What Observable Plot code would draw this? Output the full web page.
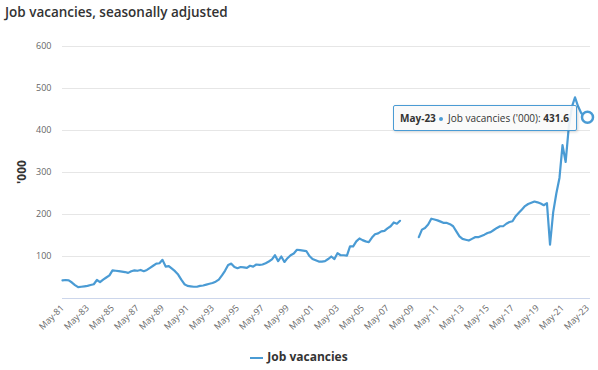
<!DOCTYPE html>
<html><head><meta charset="utf-8">
<script src="https://cdn.jsdelivr.net/npm/d3@7"></script>
<script src="https://cdn.jsdelivr.net/npm/@observablehq/plot@0.6"></script>
<style>
body{margin:0;background:#fff;font-family:"Open Sans",sans-serif;}
#wrap{position:relative;width:598px;height:370px;overflow:hidden;}
#title{position:absolute;left:5px;top:3px;font-size:13.5px;font-weight:600;color:#333;white-space:nowrap;}
#ylab{position:absolute;left:21px;top:172px;transform:translate(-50%,-50%) rotate(-90deg);font-size:12px;font-weight:bold;color:#333;white-space:nowrap;}
#tip{position:absolute;right:21px;top:105px;box-sizing:border-box;height:26px;line-height:24px;padding:0 7px 0 6px;border:1px solid #4a9bd4;background:rgba(250,250,250,0.9);box-shadow:1px 1px 3px rgba(0,0,0,0.18);font-size:10px;color:#333;white-space:nowrap;border-radius:2px;}
#tip .dot{display:inline-block;width:4px;height:4px;border-radius:50%;background:#4a9bd4;vertical-align:middle;margin:0 2px 0 1px;}
#legend{position:absolute;left:0;width:598px;top:348px;text-align:center;font-size:12px;font-weight:bold;color:#333;}
#legend .sym{display:inline-block;width:13px;height:2px;background:#4a9bd4;vertical-align:middle;margin-right:4px;}
#wrap svg{position:absolute;left:0;top:0;}
</style></head><body>
<div id="wrap"></div>
<script>
// Quarterly job vacancies ('000), May-81 .. May-23 (null = survey suspended)
const seriesName = "Job vacancies";
const unitLabel = "'000";
const titleText = "Job vacancies, seasonally adjusted";
const firstQuarter = {year: 1981, month: 4}; // May 1981
const values = [
  43,44,43,38,32,27,28,29,30,32,34,44,39,45,50,55,
  67,66,65,64,63,61,65,67,66,68,65,68,73,78,83,84,
  92,76,77,71,65,57,45,34,30,29,28,28,30,31,33,35,
  37,40,45,55,66,80,83,75,72,75,74,73,78,76,81,80,
  81,84,88,93,103,89,100,87,96,103,107,116,115,114,113,101,
  94,91,88,88,89,94,100,94,108,103,103,102,124,124,136,143,
  139,136,134,145,153,155,160,161,167,172,181,178,185,null,null,null,
  null,null,146,164,168,176,190,188,186,183,180,180,177,172,160,148,
  142,140,138,142,146,146,149,152,156,158,163,168,172,172,178,182,
  184,196,204,212,220,225,228,231,229,226,222,227,128,205,250,287,
  365,325,409,457,479,457,441,436,431.6
];
const tickLabels = ["May-81","May-83","May-85","May-87","May-89","May-91","May-93","May-95","May-97","May-99","May-01",
  "May-03","May-05","May-07","May-09","May-11","May-13","May-15","May-17","May-19","May-21","May-23"];
const yTicks = [100,200,300,400,500,600];

const lineColor = "#4a9bd4";
const data = values.map((v, i) => ({date: new Date(firstQuarter.year, firstQuarter.month + 3*i, 1), value: v}));
const tickDates = tickLabels.map(l => { const yy = +l.slice(4); return new Date(yy > 50 ? 1900 + yy : 2000 + yy, 4, 1); });
const labelByTime = new Map(tickDates.map((d, i) => [+d, tickLabels[i]]));
const last = data[data.length - 1];

const chart = Plot.plot({
  width: 598, height: 370,
  marginLeft: 62, marginRight: 11, marginTop: 46, marginBottom: 72,
  style: {fontFamily: "Open Sans, sans-serif", fontSize: "9px", color: "#666", background: "transparent", overflow: "visible"},
  x: {type: "time", domain: [data[0].date, last.date]},
  y: {domain: [0, 600]},
  marks: [
    Plot.ruleY(yTicks, {stroke: "#e6e6e6", insetRight: -3}),
    Plot.ruleY([0], {stroke: "#ccd6eb", insetRight: -3}),
    Plot.axisY({ticks: yTicks, tickSize: 0, tickPadding: 11, label: null, fill: "#666"}),
    Plot.axisX({ticks: tickDates, tickFormat: d => labelByTime.get(+d), tickRotate: -45, tickSize: 0, tickPadding: 8, label: null, fill: "#666"}),
    Plot.line(data, {x: "date", y: "value", stroke: lineColor, strokeWidth: 2.2}),
    Plot.dot([last], {x: "date", y: "value", r: 5.5, fill: "#fff", stroke: lineColor, strokeWidth: 2.5})
  ]
});
const wrap = document.getElementById("wrap");
wrap.appendChild(chart);

const t = document.createElement("div"); t.id = "title"; t.textContent = titleText; wrap.appendChild(t);
const yl = document.createElement("div"); yl.id = "ylab"; yl.textContent = unitLabel; wrap.appendChild(yl);
const tip = document.createElement("div"); tip.id = "tip";
const lastLabel = tickLabels[tickLabels.length - 1];
tip.innerHTML = `<b>${lastLabel}</b> <span class="dot"></span> ${seriesName} (${unitLabel}): <b>${last.value}</b>`;
wrap.appendChild(tip);
const lg = document.createElement("div"); lg.id = "legend";
lg.innerHTML = `<span class="sym"></span>${seriesName}`;
wrap.appendChild(lg);
</script>
</body></html>
